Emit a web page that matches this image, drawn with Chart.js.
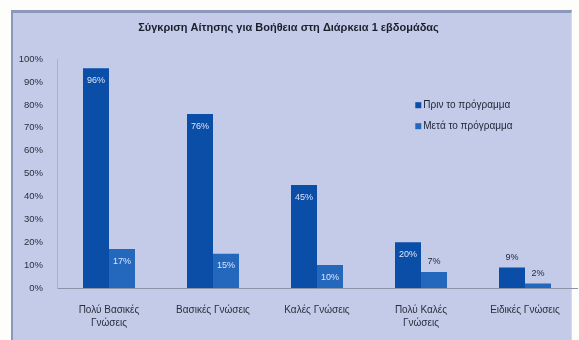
<!DOCTYPE html>
<html>
<head>
<meta charset="utf-8">
<style>
  html, body { margin: 0; padding: 0; background: #fdfdfb; }
  #frame {
    position: absolute; left: 11px; top: 10px; width: 558px; height: 330px;
    background: #c3cbe9;
    border-top: 3px solid #8c98b9; border-left: 2px solid #8c98b9;
    border-right: 1px solid #d3dbf2;
  }
  #wrap { position: absolute; left: 0; top: 0; width: 579px; height: 340px; }
</style>
</head>
<body>
<div id="frame"></div>
<div id="wrap"><canvas id="chart" width="579" height="340"></canvas></div>
<script src="https://cdn.jsdelivr.net/npm/chart.js@4/dist/chart.umd.min.js"></script>
<script>
var chartTitle = 'Σύγκριση Αίτησης για Βοήθεια στη Διάρκεια 1 εβδομάδας';
var categories = [
  ['Πολύ Βασικές', 'Γνώσεις'],
  'Βασικές Γνώσεις',
  'Καλές Γνώσεις',
  ['Πολύ Καλές', 'Γνώσεις'],
  'Ειδικές Γνώσεις'
];
var seriesNames = ['Πριν το πρόγραμμα', 'Μετά το πρόγραμμα'];
var before = [96, 76, 45, 20, 9];
var after = [17, 15, 10, 7, 2];

var FONT = "'Liberation Sans', Arial, sans-serif";

// percent labels on each bar: inside the top when tall enough, otherwise above
var barLabels = {
  id: 'barLabels',
  afterDatasetsDraw: function(chart) {
    var ctx = chart.ctx;
    ctx.save();
    ctx.font = '9px ' + FONT;
    ctx.textAlign = 'center';
    ctx.textBaseline = 'middle';
    chart.data.datasets.forEach(function(ds, i) {
      chart.getDatasetMeta(i).data.forEach(function(bar, j) {
        var v = ds.data[j];
        if (v >= 10) {
          ctx.fillStyle = '#dce5f8';
          ctx.fillText(v + '%', bar.x, bar.y + 12);
        } else {
          ctx.fillStyle = '#222a3a';
          ctx.fillText(v + '%', bar.x, bar.y - 10);
        }
      });
    });
    ctx.restore();
  }
};

// legend drawn inside the plot, to the right
var innerLegend = {
  id: 'innerLegend',
  afterDraw: function(chart) {
    var ctx = chart.ctx, a = chart.chartArea;
    var x = a.left + (a.right - a.left) * 0.689;
    var y = a.top + 46;
    ctx.save();
    ctx.font = '10px ' + FONT;
    ctx.textBaseline = 'middle';
    chart.data.datasets.forEach(function(ds, i) {
      var yy = y + i * 21;
      ctx.fillStyle = ds.backgroundColor;
      ctx.fillRect(x, yy - 3, 6, 6);
      ctx.fillStyle = '#1e2433';
      ctx.fillText(ds.label, x + 8, yy);
    });
    ctx.restore();
  }
};

new Chart(document.getElementById('chart').getContext('2d'), {
  type: 'bar',
  data: {
    labels: categories,
    datasets: [
      { label: seriesNames[0], data: before, backgroundColor: '#0b4ea8' },
      { label: seriesNames[1], data: after, backgroundColor: '#2468be' }
    ]
  },
  options: {
    responsive: false,
    animation: false,
    layout: { padding: { left: 0, right: 2, top: 0, bottom: 0 } },
    datasets: { bar: { barPercentage: 1, categoryPercentage: 0.5 } },
    plugins: {
      legend: { display: false },
      tooltip: { enabled: false },
      title: {
        display: true,
        text: chartTitle,
        color: '#1a1f2c',
        font: { family: FONT, size: 11, weight: 'bold' },
        padding: { top: 21, bottom: 25 }
      }
    },
    scales: {
      x: {
        grid: { display: false },
        border: { display: true, color: '#8a93a8' },
        ticks: {
          color: '#2a2f3c', font: { family: FONT, size: 10, lineHeight: 1.25 },
          padding: 8, maxRotation: 0, autoSkip: false
        },
        afterFit: function(s) { s.height = 52; }
      },
      y: {
        min: 0, max: 100,
        grid: { display: false },
        border: { display: true, color: '#a9b2c8' },
        ticks: {
          stepSize: 10, color: '#2a2f3c', font: { family: FONT, size: 9.5 },
          padding: 6,
          callback: function(v) { return v + '%'; }
        },
        afterFit: function(s) { s.width = 57; }
      }
    }
  },
  plugins: [barLabels, innerLegend]
});
</script>
</body>
</html>
